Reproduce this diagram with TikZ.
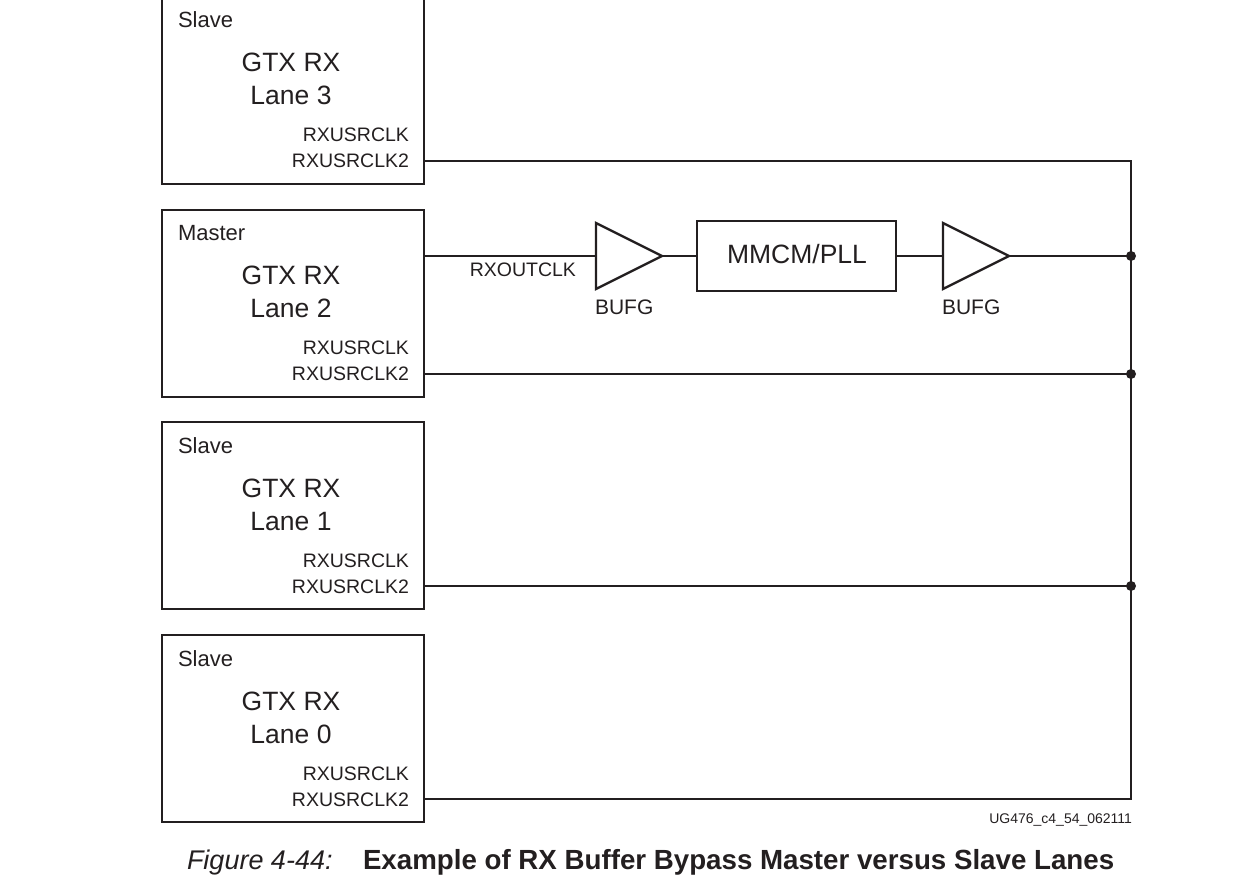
\documentclass[tikz,border=0pt]{standalone}
\usepackage{fontspec}
\setmainfont{Liberation Sans}
\definecolor{ink}{HTML}{231F20}
\begin{document}
\begin{tikzpicture}[x=1pt,y=-1pt,
  every node/.style={text=ink, inner sep=0pt, outer sep=0pt},
  lanebox/.style={draw=ink, line width=2.6pt, minimum width=262pt, minimum height=187pt, anchor=north west},
  pllbox/.style={draw=ink, line width=2.6pt, minimum width=199pt, minimum height=70pt},
  wire/.style={draw=ink, line width=1.3pt},
  buffer/.style={draw=ink, line width=2.4pt, line join=miter},
  dotc/.style={fill=ink},
  rolef/.style={font=\fontsize{22}{26}\selectfont},
  bigf/.style={font=\fontsize{26.5}{30}\selectfont},
  smallf/.style={font=\fontsize{19.5}{23}\selectfont},
  buff/.style={font=\fontsize{21}{25}\selectfont},
  tinyf/.style={font=\fontsize{14}{17}\selectfont},
  capf/.style={font=\fontsize{27}{31}\selectfont},
  capbf/.style={font=\fontsize{27.7}{32}\selectfont\bfseries}]
\useasboundingbox (0,0) rectangle (1250,890);

% lane boxes
\foreach \n/\t/\r in {3/-3/Slave, 2/210/Master, 1/422/Slave, 0/635/Slave} {
  \node[lanebox] (box\n) at (162,\t) {};
  \node[rolef, anchor=base west] (role\n) at (178,\t+31) {\r};
  \node[bigf, anchor=base] (gtx\n) at (291,\t+75) {GTX RX};
  \node[bigf, anchor=base] (lane\n) at (291,\t+108) {Lane \n};
  \node[smallf, anchor=base east] (usr\n) at (409,\t+145) {RXUSRCLK};
  \node[smallf, anchor=base east] (usrb\n) at (409,\t+171) {RXUSRCLK2};
  \coordinate (p\n) at (424,\t+164);
  \coordinate (bus\n) at (1131,\t+164);
}

% master clock path
\coordinate (rxo) at (424,256);
\coordinate (b1in) at (596,256);
\coordinate (b1out) at (662,256);
\coordinate (b2in) at (943,256);
\coordinate (b2out) at (1009,256);
\coordinate (busM) at (1131,256);

\draw[buffer] (596,223) -- (b1out) -- (596,289) -- cycle;
\draw[buffer] (943,223) -- (b2out) -- (943,289) -- cycle;
\node[pllbox] (mmcm) at (796.5,256) {};
\node[bigf, anchor=base] (mmcmt) at (797,264) {MMCM/PLL};

\draw[wire] (rxo) -- (b1in);
\draw[wire] (b1out) -- (mmcm.west);
\draw[wire] (mmcm.east) -- (b2in);
\draw[wire] (b2out) -- (busM);

\node[smallf, anchor=base east] (rxoutclk) at (576,277) {RXOUTCLK};
\node[buff, anchor=base west] (bufg1) at (595,315) {BUFG};
\node[buff, anchor=base west] (bufg2) at (942,315) {BUFG};

% clock distribution
\draw[wire] (p3) -- (bus3) -- (bus0) -- (p0);
\draw[wire] (p2) -- (bus2);
\draw[wire] (p1) -- (bus1);
\fill[dotc] (busM) circle (5pt);
\fill[dotc] (bus2) circle (5pt);
\fill[dotc] (bus1) circle (5pt);

% labels
\node[tinyf, anchor=base east] (ug) at (1132,823) {UG476\_c4\_54\_062111};
\node[capf, anchor=base west] (figno) at (187,869) {\itshape Figure 4-44:};
\node[capbf, anchor=base west] (figtitle) at (363,869) {Example of RX Buffer Bypass Master versus Slave Lanes};
\end{tikzpicture}
\end{document}
